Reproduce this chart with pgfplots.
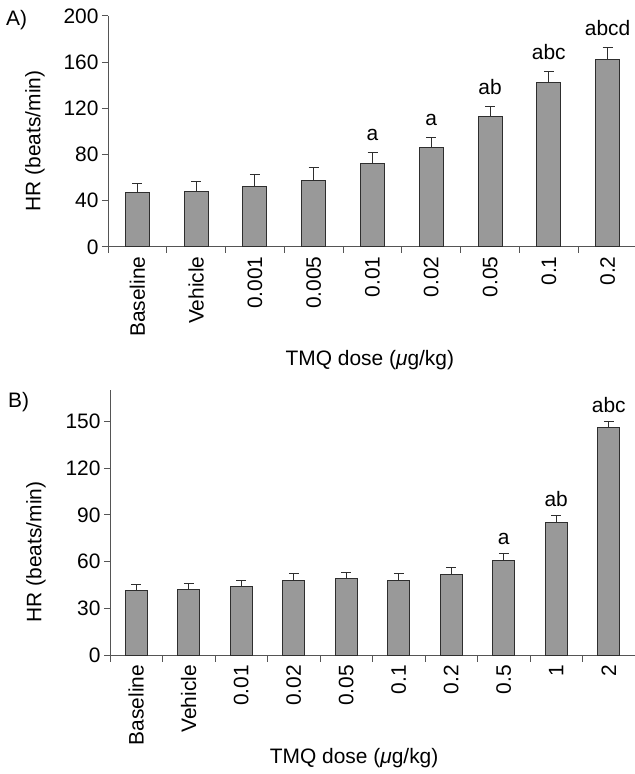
\documentclass[border=0pt]{standalone}
\usepackage{pgfplots}
\pgfplotsset{compat=1.18}
\usepackage{pgfplotstable}
\usepackage{fontspec}
\setmainfont{Liberation Sans}
\definecolor{barfill}{HTML}{999999}
\definecolor{bardraw}{HTML}{2E2E2E}
\definecolor{axcol}{HTML}{555555}

\pgfplotstableread{
x y e
0 47 8
1 48 9
2 52 11
3 58 11
4 72 10
5 86 9
6 113 9
7 142 10
8 162.5 10
}\dataA
\pgfplotstableread{
x t l
4 82 a
5 95 a
6 122 ab
7 152 abc
8 172.5 abcd
}\labA
\pgfplotstableread{
x y e
0 41.3 4
1 42 4.2
2 44.5 3.8
3 48.3 4.5
4 49.2 4.2
5 48.3 4.5
6 51.7 4.5
7 61.1 4.3
8 85.2 4.3
9 145.8 4.1
}\dataB
\pgfplotstableread{
x t l
7 65.4 a
8 89.5 ab
9 149.9 abc
}\labB

\newcommand{\bigfont}{\fontsize{21}{25}\selectfont}

\pgfplotsset{
  hrstyle/.style={
    scale only axis,
    axis x line=bottom, axis y line=left,
    axis line style={-, draw=axcol, line width=1bp},
    tick align=outside,
    major tick length=6bp, minor tick length=6bp,
    ymin=0,
    major x tick style={draw=none},
    y tick style={draw=axcol, line width=1bp},
    minor x tick style={draw=axcol, line width=1bp},
    tick label style={font=\bigfont, text=black},
    /pgf/number format/assume math mode=true,
    xticklabel style={rotate=90, anchor=east},
    label style={font=\bigfont},
    ylabel={HR (beats/min)},
    xlabel={TMQ dose ({\itshape μ}g/kg)},
  },
  barstyle/.style={
    ybar, bar width=#1, fill=barfill, draw=bardraw, line width=1bp,
    error bars/.cd, y dir=plus, y explicit,
    error bar style={line width=1bp, draw=bardraw},
    error mark options={rotate=90, mark size=5bp, line width=1bp, draw=bardraw},
  },
  labstyle/.style={
    draw=none, mark=none, nodes near coords, point meta=explicit symbolic,
    every node near coord/.append style={anchor=base, yshift=#1, font=\bigfont, text=black},
  },
}

\begin{document}
\begin{tikzpicture}
\path[use as bounding box] (0,0) rectangle (635bp,774bp);
\node[anchor=base west, font=\bigfont, inner sep=0pt] at (6bp,748bp) {A)};
\node[anchor=base west, font=\bigfont, inner sep=0pt] at (8bp,366bp) {B)};

\begin{axis}[hrstyle,
  at={(108bp,527bp)}, anchor=south west,
  width=529bp, height=231bp,
  xmin=-0.5, xmax=8.5, ymax=200,
  ytick={0,40,...,200},
  xtick={0,...,8},
  xticklabels={Baseline,Vehicle,0.001,0.005,0.01,0.02,0.05,0.1,0.2},
  minor xtick={-0.5,0.5,...,8.5},
  ylabel style={at={(axis description cs:-0.138,0.459)}, anchor=center},
  xlabel style={at={(axis description cs:0.495,-0.489)}, anchor=center},
]
\addplot[barstyle=24bp] table[x=x, y=y, y error=e] {\dataA};
\addplot[labstyle=12bp] table[x=x, y=t, meta=l] {\labA};
\end{axis}

\begin{axis}[hrstyle,
  at={(110bp,118.5bp)}, anchor=south west,
  width=525bp, height=265.5bp,
  xmin=-0.5, xmax=9.5, ymax=170,
  ytick={0,30,...,150},
  xtick={0,...,9},
  xticklabels={Baseline,Vehicle,0.01,0.02,0.05,0.1,0.2,0.5,1,2},
  minor xtick={-0.5,0.5,...,9.5},
  ylabel style={at={(axis description cs:-0.141,0.39)}, anchor=center},
  xlabel style={at={(axis description cs:0.465,-0.386)}, anchor=center},
]
\addplot[barstyle=22bp] table[x=x, y=y, y error=e] {\dataB};
\addplot[labstyle=9bp] table[x=x, y=t, meta=l] {\labB};
\end{axis}
\end{tikzpicture}
\end{document}
